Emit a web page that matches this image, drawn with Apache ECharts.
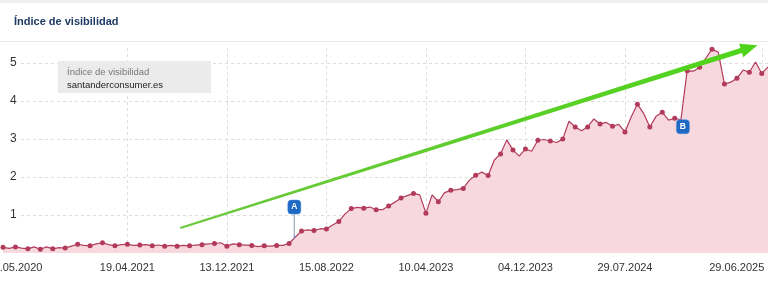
<!DOCTYPE html>
<html>
<head>
<meta charset="utf-8">
<script src="https://cdn.jsdelivr.net/npm/echarts@6/dist/echarts.min.js"></script>
<style>
html,body{margin:0;padding:0;background:#fff;}
#c{width:768px;height:282px;}
</style>
</head>
<body>
<div id="c"></div>
<script>
// ---- data ----
const chartTitle = 'Índice de visibilidad';
const legendTitle = 'Índice de visibilidad';
const seriesName = 'santanderconsumer.es';

const tickLabels = ['25.05.2020','19.04.2021','13.12.2021','15.08.2022','10.04.2023','04.12.2023','29.07.2024','29.06.2025'];
const tickIndex  = [2, 20, 36, 52, 68, 84, 100, 122];

const visibility = [
  0.15,0.12,0.16,0.13,0.11,0.16,0.10,0.16,0.11,0.14,
  0.13,0.18,0.23,0.20,0.19,0.24,0.27,0.22,0.19,0.22,
  0.23,0.20,0.21,0.22,0.19,0.21,0.18,0.20,0.18,0.20,
  0.19,0.21,0.22,0.24,0.25,0.27,0.18,0.24,0.22,0.21,
  0.20,0.17,0.19,0.18,0.20,0.20,0.25,0.42,0.58,0.61,
  0.59,0.64,0.63,0.74,0.83,1.03,1.17,1.20,1.18,1.21,
  1.14,1.14,1.24,1.34,1.45,1.51,1.57,1.53,1.05,1.53,
  1.35,1.59,1.65,1.67,1.70,1.92,2.05,2.13,2.04,2.45,
  2.61,2.98,2.71,2.55,2.74,2.68,2.97,2.99,2.95,2.91,
  3.00,3.47,3.32,3.22,3.32,3.53,3.40,3.44,3.34,3.39,
  3.19,3.58,3.92,3.68,3.32,3.60,3.71,3.50,3.55,3.51,
  4.80,4.79,4.89,5.13,5.37,5.29,4.45,4.50,4.60,4.82,
  4.76,5.03,4.73,4.90
];

const markerLabels = ['A', 'B'];
const markerIndex  = [47, 109];

const trendFrom = [28.5, 0.66];
const trendTo   = [121.3, 5.47];

// ---- build category dates from the tick dates ----
function parseD(s){ const p = s.split('.').map(Number); return Date.UTC(p[2], p[1]-1, p[0]); }
function fmtD(t){ const d = new Date(t); return String(d.getUTCDate()).padStart(2,'0')+'.'+String(d.getUTCMonth()+1).padStart(2,'0')+'.'+d.getUTCFullYear(); }
const tickTimes = tickLabels.map(parseD);
const categories = visibility.map((_, i) => {
  let k = 0;
  while (k < tickIndex.length - 2 && i > tickIndex[k+1]) k++;
  const i0 = tickIndex[k], i1 = tickIndex[k+1];
  const t = tickTimes[k] + (tickTimes[k+1] - tickTimes[k]) * (i - i0) / (i1 - i0);
  return fmtD(Math.round(t / 86400000) * 86400000);
});

const FONT = "'Liberation Sans', Arial, sans-serif";
const lastTick = tickIndex[tickIndex.length - 1];
const firstTick = tickIndex[0];

const markData = [];
markerLabels.forEach((lab, j) => {
  const idx = markerIndex[j];
  const c = [idx, visibility[idx]];
  if (lab === 'A') {
    markData.push({ name: '', coord: c, symbol: 'rect', symbolSize: [1, 24], symbolOffset: [-1, -12],
      itemStyle: { color: '#a9a9a9' }, label: { show: false } });
    markData.push({ name: lab, coord: c, symbol: 'roundRect', symbolSize: [13, 14], symbolOffset: [-1, -30] });
  } else {
    markData.push({ name: lab, coord: c, symbol: 'roundRect', symbolSize: [13, 14], symbolOffset: [2, 7] });
  }
});

const chart = echarts.init(document.getElementById('c'), null, { renderer: 'canvas' });
const option = {
  animation: false,
  backgroundColor: '#ffffff',
  title: {
    text: chartTitle, left: 14, top: 16, padding: 0,
    textStyle: { fontSize: 11, fontWeight: 'bold', color: '#1e3a62', fontFamily: FONT }
  },
  legend: {
    left: 58, top: 61, selectedMode: false,
    backgroundColor: '#ebebeb', padding: [6, 8, 3, 3],
    itemWidth: 0, itemHeight: 0, itemGap: 0,
    data: [seriesName],
    formatter: () => '{a|' + legendTitle + '}\n{b|' + seriesName + '}',
    textStyle: {
      rich: {
        a: { fontSize: 9.5, color: '#777777', lineHeight: 13, width: 136, fontFamily: FONT },
        b: { fontSize: 9.5, color: '#222222', lineHeight: 13, width: 136, fontFamily: FONT }
      }
    }
  },
  grid: { left: 3, right: 0, top: 48, bottom: 29, containLabel: false, outerBoundsMode: 'none' },
  xAxis: {
    type: 'category', data: categories, boundaryGap: false,
    axisLine: { show: false }, axisTick: { show: false },
    axisLabel: {
      interval: (i) => tickIndex.includes(i),
      formatter: (v, i) => {
        const t = tickLabels[tickIndex.indexOf(i)];
        if (i === lastTick) return '{r|' + t + '}';
        if (i === firstTick) return '{l|' + t + '}';
        return t;
      },
      rich: {
        r: { padding: [0, 50, 0, 0], fontSize: 11, color: '#333', fontFamily: FONT },
        l: { padding: [0, 1, 0, 0], fontSize: 11, color: '#333', fontFamily: FONT }
      },
      color: '#333', fontSize: 11, margin: 9, fontFamily: FONT
    },
    splitLine: {
      show: true,
      interval: (i) => tickIndex.indexOf(i) > 0,
      lineStyle: { color: '#dddddd', type: [3, 3], width: 1 }
    }
  },
  yAxis: {
    type: 'value', min: 0, max: 5.4, interval: 1,
    axisLine: { show: false }, axisTick: { show: false },
    splitLine: { show: true, showMinLine: false, showMaxLine: false,
      lineStyle: { color: '#dddddd', type: [3, 3], width: 1 } },
    axisLabel: {
      inside: true, margin: 0,
      formatter: (v) => (v > 0 && Number.isInteger(v)) ? String(v) : '',
      color: '#333', fontSize: 12, fontFamily: FONT,
      backgroundColor: '#ffffff', padding: [1, 4, 1, 7]
    }
  },
  series: [{
    type: 'line', name: seriesName, data: visibility,
    symbol: 'circle', showSymbol: true, showAllSymbol: true,
    symbolSize: (v, p) => (p.dataIndex % 2 === 0 ? 5 : 0),
    lineStyle: { color: '#b23b5b', width: 1.2 },
    itemStyle: { color: '#b23b5b' },
    areaStyle: { color: '#f7d8df', opacity: 1 },
    emphasis: { disabled: true },
    markPoint: {
      silent: true,
      itemStyle: { color: '#1f68c4', borderColor: '#4a8ee0', borderWidth: 0.5 },
      label: { show: true, formatter: '{b}', color: '#fff', fontSize: 8.5, fontWeight: 'bold', fontFamily: FONT },
      data: markData
    }
  }]
};
chart.setOption(option);

// trend arrow drawn from data coordinates
function toPx(pt){
  const i0 = Math.floor(pt[0]), f = pt[0] - i0;
  const a = chart.convertToPixel({ seriesIndex: 0 }, [i0, pt[1]]);
  const b = chart.convertToPixel({ seriesIndex: 0 }, [i0 + 1, pt[1]]);
  return [a[0] + (b[0] - a[0]) * f, a[1]];
}
const p0 = toPx(trendFrom), p1 = toPx(trendTo);
const dx = p1[0] - p0[0], dy = p1[1] - p0[1], L = Math.hypot(dx, dy);
const d = [dx / L, dy / L], n = [-d[1], d[0]];
const headLen = 17, headHalf = 7, tailHalf = 1, neckHalf = 2.6;
const hb = [p1[0] - d[0] * headLen, p1[1] - d[1] * headLen];
const P = (base, s) => [base[0] + n[0] * s, base[1] + n[1] * s];
const arrowPts = [P(p0, tailHalf), P(hb, neckHalf), P(hb, headHalf), p1, P(hb, -headHalf), P(hb, -neckHalf), P(p0, -tailHalf)];

chart.setOption({
  graphic: [
    { type: 'rect', silent: true, z: 0, shape: { x: 0, y: 0, width: 768, height: 3 }, style: { fill: '#efefef' } },
    { type: 'line', silent: true, z: 0, shape: { x1: 0, y1: 41.5, x2: 768, y2: 41.5 }, style: { stroke: '#ebebeb', lineWidth: 1 } },
    { type: 'polygon', silent: true, z: 100, shape: { points: arrowPts },
      style: { fill: new echarts.graphic.LinearGradient(0, 0, 1, 0, [
        { offset: 0, color: '#6cc83e' }, { offset: 1, color: '#4fd41a' }]) } }
  ]
});
</script>
</body>
</html>
